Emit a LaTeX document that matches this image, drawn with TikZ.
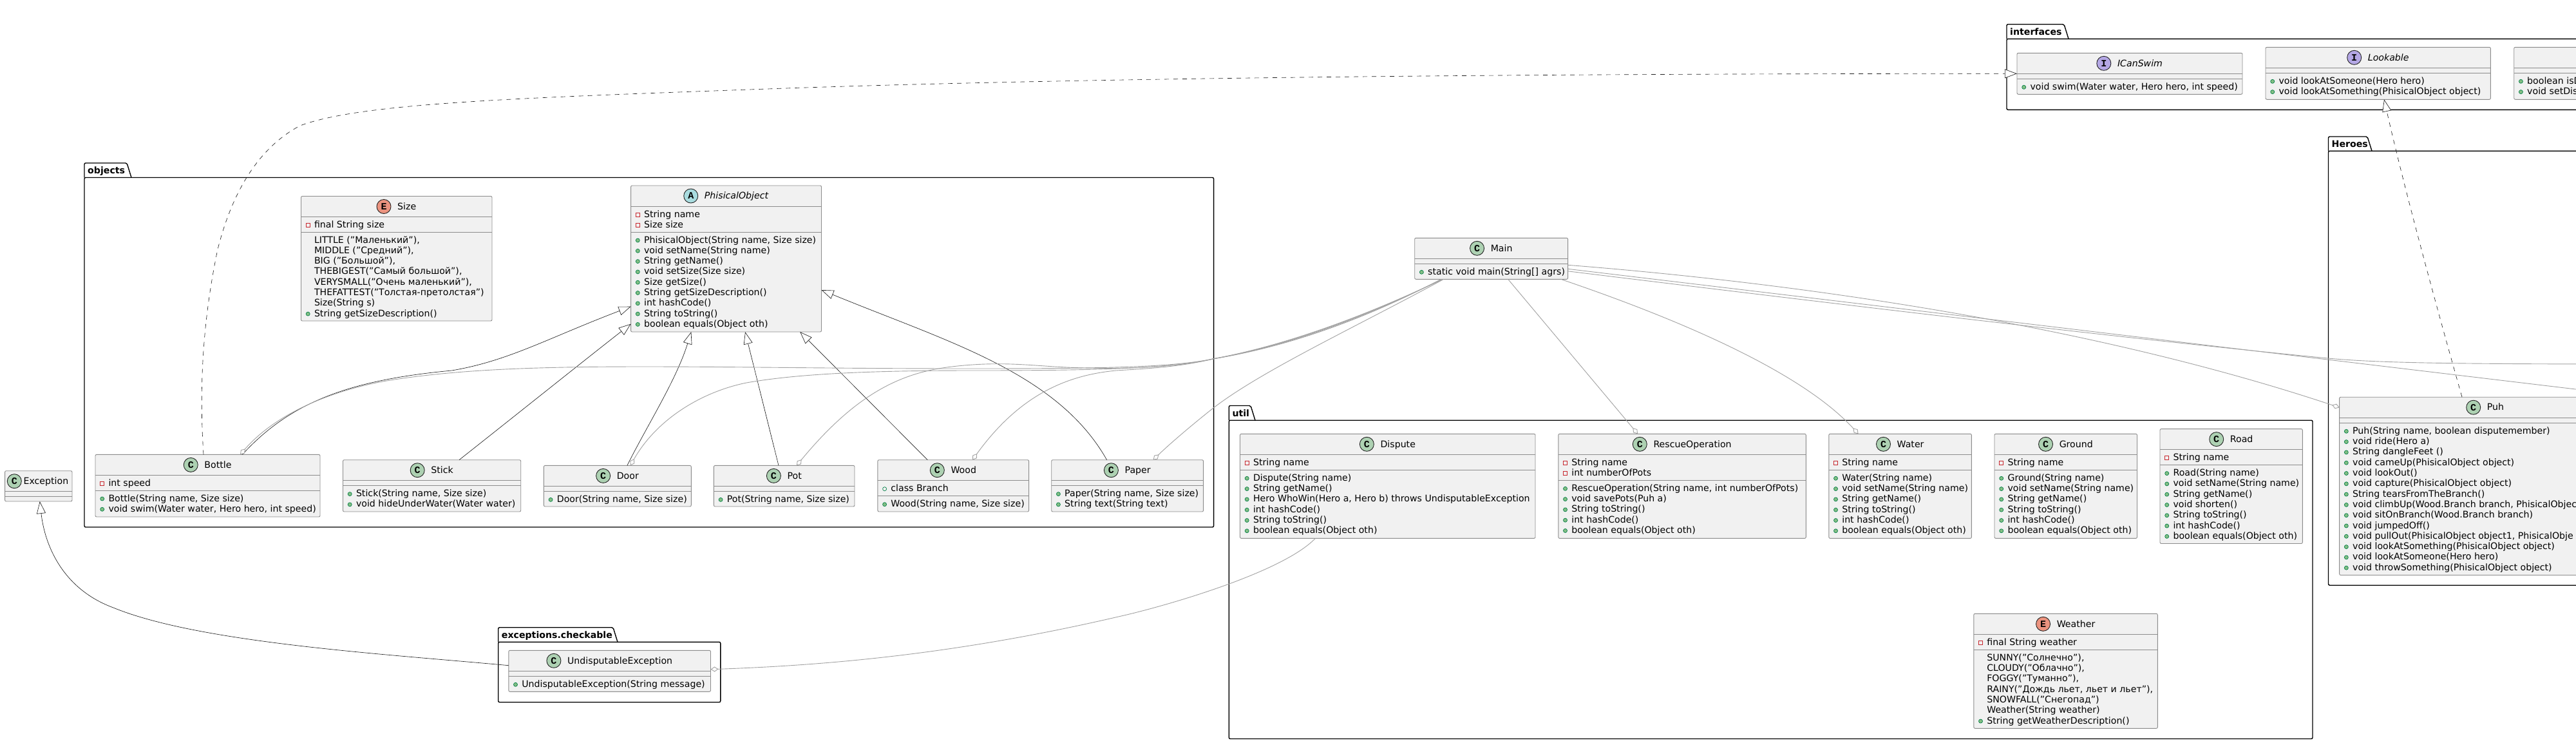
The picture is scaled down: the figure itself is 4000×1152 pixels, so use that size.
\documentclass[tikz,border=0pt]{standalone}
\usepackage{fontspec}
\setmainfont{DejaVu Sans}
\newfontfamily\spotfont{Liberation Mono}
\usetikzlibrary{arrows.meta}

\definecolor{boxfill}{HTML}{F1F1F1}
\definecolor{boxline}{HTML}{8C8C8C}
\definecolor{darkline}{HTML}{222222}
\definecolor{softline}{HTML}{A2A2A2}
\definecolor{spotC}{HTML}{ADD1B2}
\definecolor{spotE}{HTML}{EB937F}
\definecolor{spotI}{HTML}{B4A7E5}
\definecolor{spotA}{HTML}{A9DCDF}
\definecolor{pubfill}{HTML}{84BE84}
\definecolor{publine}{HTML}{038048}
\definecolor{privline}{HTML}{C82930}

\newcommand{\umlfont}{\fontsize{14.15}{16}\selectfont}

\tikzset{
  classnode/.style={draw=boxline, fill=boxfill, line width=0.9pt, rounded corners=2pt, inner sep=0, outer sep=0},
  pkgnode/.style={draw=black, line width=1.4pt, rounded corners=2pt, inner sep=0, outer sep=0},
  pkgline/.style={draw=black, line width=1.4pt, rounded corners=2pt},
  pkglabel/.style={anchor=base west, inner sep=0, font=\umlfont\bfseries},
  sepline/.style={draw=boxline, line width=0.9pt},
  titletext/.style={anchor=base, inner sep=0, font=\umlfont},
  rowtext/.style={anchor=base west, inner sep=0, font=\umlfont},
  spotnode/.style={circle, draw=darkline, line width=0.9pt, minimum size=22pt, inner sep=0,
    font=\spotfont\fontsize{15}{15}\selectfont\bfseries},
  pubm/.style={circle, draw=publine, fill=pubfill, line width=0.7pt, minimum size=6pt, inner sep=0},
  pubf/.style={circle, draw=publine, line width=0.7pt, minimum size=6pt, inner sep=0},
  privf/.style={rectangle, draw=privline, line width=0.8pt, minimum size=6pt, inner sep=0},
  extends/.style={draw=darkline, line width=0.65pt, -{Triangle[length=19pt,width=14pt,fill=white]}},
  realizes/.style={extends, dash pattern=on 7pt off 7pt},
  uses/.style={draw=softline, line width=0.9pt, -{Diamond[length=12pt,width=8pt,fill=white]}},
  usesfree/.style={draw=softline, line width=0.9pt}
}

%% name, left, tab top, right, head line, bottom, tab right, label
\newcommand{\umlpackage}[8]{
  \draw[pkgline] (#2,#5) -- (#2,#3) -- (#7-7,#3) -- (#7,#5);
  \node[pkgnode, minimum width={(#4-#2)*1pt}, minimum height={(#6-#5)*1pt}] (#1) at ({(#2+#4)/2},{(#5+#6)/2}) {};
  \node[pkglabel] (#1-label) at (#2+5,#3+16.5) {#8};
}

%% name, left, top, right, bottom, spot colour, spot letter, title
\newcommand{\umlclass}[8]{
  \node[classnode, minimum width={(#4-#2)*1pt}, minimum height={(#5-#3)*1pt}] (#1) at ({(#2+#4)/2},{(#3+#5)/2}) {};
  \node[titletext] (#1-title) at ({(#2+#4)/2+16},#3+20.7) {#8};
  \node[spotnode, fill=#6] (#1-spot) at ([xshift=-21pt,yshift=4.7pt]#1-title.base west) {#7};
  \umlsep{#1}{#3+32}
}

\newcommand{\umlsep}[2]{
  \draw[sepline] (#1.west |- 0,#2) -- (#1.east |- 0,#2);
}

%% name, left, section top, marker style, rows
\newcommand{\umlrows}[5]{
  \foreach \txt [count=\n from 0] in {#5} {
    \node[#4] (#1-#4-\n-mark) at (#2+10.7,{#3+13+16.3*\n}) {};
    \node[rowtext] (#1-#4-\n) at (#2+20.3,{#3+17+16.3*\n}) {\txt};
  }
}

%% name, left, section top, rows
\newcommand{\umlplain}[4]{
  \foreach \txt [count=\n from 0] in {#4} {
    \node[rowtext] (#1-plain-\n) at (#2+20.3,{#3+17+16.3*\n}) {\txt};
  }
}

\begin{document}
\begin{tikzpicture}[x=1pt,y=-1pt]

  \path[use as bounding box, clip] (0,0) rectangle (4000,1152);
  \fill[white] (0,0) rectangle (4000,1152);

  %% packages
  \umlpackage{objects}{131}{253}{1884.6}{275.5}{818}{204}{objects}
  \umlpackage{checkable}{773.7}{973.7}{1118.8}{996.3}{1089.7}{959}{exceptions.checkable}
  \umlpackage{util}{1908.3}{629.5}{3591}{652.2}{1146.5}{1949}{util}
  \umlpackage{interfaces}{3116}{37.7}{4100}{60.3}{170.3}{3212}{interfaces}
  \umlpackage{Heroes}{3615.5}{212}{4100}{234.3}{908.2}{3683}{Heroes}

  %% objects
  \umlclass{Size}{467.5}{304.5}{764}{498}{spotE}{E}{Size}
  \umlsep{Size}{360}
  \umlrows{Size}{467.5}{336}{privf}{final String size}
  \umlplain{Size}{467.5}{360}{{LITTLE ("Маленький"),},{MIDDLE ("Средний"),},{BIG ("Большой"),},{THEBIGEST("Самый большой"),},{VERYSMALL("Очень маленький"),},{THEFATTEST("Толстая-претолстая")},{Size(String s)}}
  \umlrows{Size}{467.5}{474.1}{pubm}{String getSizeDescription()}

  \umlclass{PhisicalObject}{979.6}{288}{1275.5}{515}{spotA}{A}{\itshape PhisicalObject}
  \umlsep{PhisicalObject}{360}
  \umlrows{PhisicalObject}{979.6}{320}{privf}{String name,Size size}
  \umlrows{PhisicalObject}{979.6}{360}{pubm}{{PhisicalObject(String name, Size size)},void setName(String name),String getName(),void setSize(Size size),Size getSize(),String getSizeDescription(),int hashCode(),String toString(),boolean equals(Object oth)}

  \umlclass{Bottle}{148}{705.4}{497}{802}{spotC}{C}{Bottle}
  \umlsep{Bottle}{761}
  \umlrows{Bottle}{148}{737}{privf}{int speed}
  \umlrows{Bottle}{148}{761}{pubm}{{Bottle(String name, Size size)},{void swim(Water water, Hero hero, int speed)}}

  \umlclass{Stick}{532.5}{713.7}{808.7}{794}{spotC}{C}{Stick}
  \umlsep{Stick}{753.6}
  \umlrows{Stick}{532.5}{753.6}{pubm}{{Stick(String name, Size size)},void hideUnderWater(Water water)}

  \umlclass{Door}{844.4}{722.4}{1073.3}{786}{spotC}{C}{Door}
  \umlsep{Door}{762.4}
  \umlrows{Door}{844.4}{762.4}{pubm}{{Door(String name, Size size)}}

  \umlclass{Pot}{1108.4}{722.4}{1327}{786}{spotC}{C}{Pot}
  \umlsep{Pot}{762.4}
  \umlrows{Pot}{1108.4}{762.4}{pubm}{{Pot(String name, Size size)}}

  \umlclass{Wood}{1362.9}{713.7}{1597.6}{794}{spotC}{C}{Wood}
  \umlsep{Wood}{769.7}
  \umlrows{Wood}{1362.9}{745.7}{pubf}{class Branch}
  \umlrows{Wood}{1362.9}{769.7}{pubm}{{Wood(String name, Size size)}}

  \umlclass{Paper}{1632.7}{713.7}{1868.6}{794}{spotC}{C}{Paper}
  \umlsep{Paper}{753.6}
  \umlrows{Paper}{1632.7}{753.6}{pubm}{{Paper(String name, Size size)},String text(String text)}

  %% free standing
  \node[classnode, minimum width=104.4pt, minimum height=47.3pt] (Exception) at (59.8,754.35) {};
  \node[rowtext] (Exception-title) at (36.4,751.4) {Exception};
  \node[spotnode, fill=spotC] (Exception-spot) at (22.3,746.7) {C};
  \umlsep{Exception}{762.6}
  \umlsep{Exception}{770.5}

  \umlclass{Main}{2196.7}{369.3}{2434.6}{433.3}{spotC}{C}{Main}
  \umlsep{Main}{409.3}
  \umlrows{Main}{2196.7}{409.3}{pubm}{{static void main(String[] agrs)}}

  %% exceptions.checkable
  \umlclass{UndisputableException}{789.8}{1009.3}{1103.5}{1073.3}{spotC}{C}{UndisputableException}
  \umlsep{UndisputableException}{1049.3}
  \umlrows{UndisputableException}{789.8}{1049.3}{pubm}{UndisputableException(String message)}

  %% util
  \umlclass{Dispute}{1925.5}{673.3}{2384}{835.4}{spotC}{C}{Dispute}
  \umlsep{Dispute}{729.3}
  \umlrows{Dispute}{1925.5}{705.3}{privf}{String name}
  \umlrows{Dispute}{1925.5}{729.3}{pubm}{Dispute(String name),String getName(),{Hero WhoWin(Hero a, Hero b) throws UndisputableException},int hashCode(),String toString(),boolean equals(Object oth)}

  \umlclass{RescueOperation}{2419.8}{673.3}{2804.3}{835.4}{spotC}{C}{RescueOperation}
  \umlsep{RescueOperation}{745.3}
  \umlrows{RescueOperation}{2419.8}{705.3}{privf}{String name,int numberOfPots}
  \umlrows{RescueOperation}{2419.8}{745.3}{pubm}{{RescueOperation(String name, int numberOfPots)},void savePots(Puh a),String toString(),int hashCode(),boolean equals(Object oth)}

  \umlclass{Water}{2839.8}{673.3}{3061.4}{835.4}{spotC}{C}{Water}
  \umlsep{Water}{729.3}
  \umlrows{Water}{2839.8}{705.3}{privf}{String name}
  \umlrows{Water}{2839.8}{729.3}{pubm}{Water(String name),void setName(String name),String getName(),String toString(),int hashCode(),boolean equals(Object oth)}

  \umlclass{Ground}{3097}{673.3}{3318.5}{835.4}{spotC}{C}{Ground}
  \umlsep{Ground}{729.3}
  \umlrows{Ground}{3097}{705.3}{privf}{String name}
  \umlrows{Ground}{3097}{729.3}{pubm}{Ground(String name),void setName(String name),String getName(),String toString(),int hashCode(),boolean equals(Object oth)}

  \umlclass{Road}{3354}{665.6}{3575.3}{843.5}{spotC}{C}{Road}
  \umlsep{Road}{721.6}
  \umlrows{Road}{3354}{697.6}{privf}{String name}
  \umlrows{Road}{3354}{721.6}{pubm}{Road(String name),void setName(String name),String getName(),void shorten(),String toString(),int hashCode(),boolean equals(Object oth)}

  \umlclass{Weather}{3064.8}{952.3}{3350.3}{1130.3}{spotE}{E}{Weather}
  \umlsep{Weather}{1008.3}
  \umlrows{Weather}{3064.8}{984.3}{privf}{final String weather}
  \umlplain{Weather}{3064.8}{1008.3}{{SUNNY("Солнечно"),},{CLOUDY("Облачно"),},{FOGGY("Туманно"),},{RAINY("Дождь льет, льет и льет"),},{SNOWFALL("Снегопад")},{Weather(String weather)}}
  \umlrows{Weather}{3064.8}{1106.1}{pubm}{String getWeatherDescription()}

  %% interfaces
  \umlclass{ICanSwim}{3132}{82.3}{3482}{146.3}{spotI}{I}{\itshape ICanSwim}
  \umlsep{ICanSwim}{122.3}
  \umlrows{ICanSwim}{3132}{122.3}{pubm}{{void swim(Water water, Hero hero, int speed)}}

  \umlclass{Lookable}{3518}{73.3}{3867.4}{154.3}{spotI}{I}{\itshape Lookable}
  \umlsep{Lookable}{113.3}
  \umlrows{Lookable}{3518}{113.3}{pubm}{void lookAtSomeone(Hero hero),void lookAtSomething(PhisicalObject object)}

  \node[classnode, minimum width=196.3pt, minimum height=81pt] (Disputable) at (4001.85,113.8) {};
  \umlsep{Disputable}{105.3}
  \umlsep{Disputable}{113.3}
  \umlrows{Disputable}{3903.7}{113.3}{pubm}{boolean isD,void setDis}

  %% Heroes
  \umlclass{Puh}{3632.6}{616.2}{4085.4}{892.5}{spotC}{C}{Puh}
  \umlsep{Puh}{656.3}
  \umlrows{Puh}{3632.6}{656.3}{pubm}{{Puh(String name, boolean disputemember)},void ride(Hero a),String dangleFeet (),void cameUp(PhisicalObject object),void lookOut(),void capture(PhisicalObject object),String tearsFromTheBranch(),{void climbUp(Wood.Branch branch, PhisicalObject},void sitOnBranch(Wood.Branch branch),void jumpedOff(),{void pullOut(PhisicalObject object1, PhisicalObje},void lookAtSomething(PhisicalObject object),void lookAtSomeone(Hero hero),void throwSomething(PhisicalObject object)}

  \coordinate (gate) at (1884.6,556.7); %% where the bundle leaves objects
  \coordinate (offB) at (4100,616);
  \coordinate (offC) at (4100,565);

  %% generalisation
  \draw[extends] ([xshift=53.8pt]Bottle.north) .. controls (450,625) and (540,590) .. (701.5,575)
    .. controls (790,560) and (850,525) .. ([yshift=-74.2pt]PhisicalObject.west);
  \draw[extends] ([xshift=42.4pt]Stick.north) .. controls (800,645) and (900,565) .. ([yshift=-101.2pt]PhisicalObject.west);
  \draw[extends] ([xshift=15pt]Door.north) .. controls (1005,660) and (1050,590) .. ([xshift=-54.2pt]PhisicalObject.south);
  \draw[extends] ([xshift=-8.7pt]Pot.north) -- ([xshift=29.5pt]PhisicalObject.south);
  \draw[extends] ([xshift=-40pt]Wood.north) -- ([xshift=114.7pt]PhisicalObject.south);
  \draw[extends] ([xshift=-32pt]Paper.north) .. controls (1642,578) and (1470,530) .. ([yshift=-48.5pt]PhisicalObject.east);
  \draw[extends] ([yshift=8.6pt]UndisputableException.west) .. controls (600,1015) and (310,998) .. (176,943)
    .. controls (100,915) and (70,850) .. ([xshift=2pt]Exception.south);

  %% realisation
  \draw[realizes] ([xshift=-6.5pt]Bottle.north) .. controls (312,640) and (308,530) .. (338,387)
    .. controls (360,300) and (400,230) .. (466,195)
    .. controls (560,160) and (800,152) .. (1200,137.7)
    .. controls (1700,120) and (2400,114.3) .. (ICanSwim.west);
  \draw[realizes] ([xshift=-36pt]Puh.north) .. controls (3790,500) and (3735,300) .. ([xshift=9.3pt]Lookable.south);

  %% dependencies out of Main
  \draw[uses] ([xshift=-75pt]Main.south) .. controls (2120,490) and (2000,535) .. (gate)
    .. controls (1820,570) and (1720,572) .. (1500,572)
    .. controls (1300,572) and (1150,569) .. (1000,569)
    .. controls (850,569) and (720,572) .. (606,590)
    .. controls (520,604) and (430,640) .. ([xshift=50.5pt]Bottle.north);
  \draw[uses] ([xshift=-76pt]Main.south) .. controls (2120,491) and (2000,536) .. (gate)
    .. controls (1820,572) and (1700,575) .. (1510,575)
    .. controls (1380,575) and (1250,578) .. (1159,594)
    .. controls (1090,608) and (1020,650) .. ([xshift=20pt]Door.north);
  \draw[uses] ([xshift=-77pt]Main.south) .. controls (2120,493) and (2000,537) .. (gate)
    .. controls (1820,572) and (1720,574) .. (1638,569)
    .. controls (1590,566) and (1545,561) .. (1478,569)
    .. controls (1400,578) and (1330,610) .. ([xshift=19.3pt]Pot.north);
  \draw[uses] ([xshift=-78pt]Main.south) .. controls (2120,495) and (2000,538) .. (gate)
    .. controls (1830,570) and (1780,572) .. (1733,575)
    .. controls (1660,582) and (1585,610) .. ([xshift=29.75pt]Wood.north);
  \draw[uses] ([xshift=-74pt]Main.south) .. controls (2100,510) and (1960,575) .. (1884.6,632.7)
    .. controls (1850,660) and (1815,690) .. ([xshift=40pt]Paper.north);
  \draw[uses] ([xshift=26pt]Main.south) -- ([xshift=-69pt]RescueOperation.north);
  \draw[uses] ([xshift=108pt]Main.south) .. controls (2620,500) and (2800,580) .. ([xshift=-65pt]Water.north);
  \draw[uses] ([yshift=-10pt]Main.east) .. controls (2800,440) and (3250,505) .. ([yshift=122pt]Puh.west);
  \draw[usesfree] ([yshift=-16pt]Main.east) -- (offB);
  \draw[usesfree] ([yshift=-19.5pt]Main.east) .. controls (3000,490) and (3350,530) .. (3615,556)
    .. controls (3690,563) and (3800,565) .. (offC);
  \draw[uses] ([xshift=-112.3pt]Dispute.south) .. controls (1990,890) and (1800,943) .. (1737.8,956.7)
    .. controls (1500,1012) and (1300,1032) .. ([yshift=2.6pt]UndisputableException.east);

\end{tikzpicture}
\end{document}
